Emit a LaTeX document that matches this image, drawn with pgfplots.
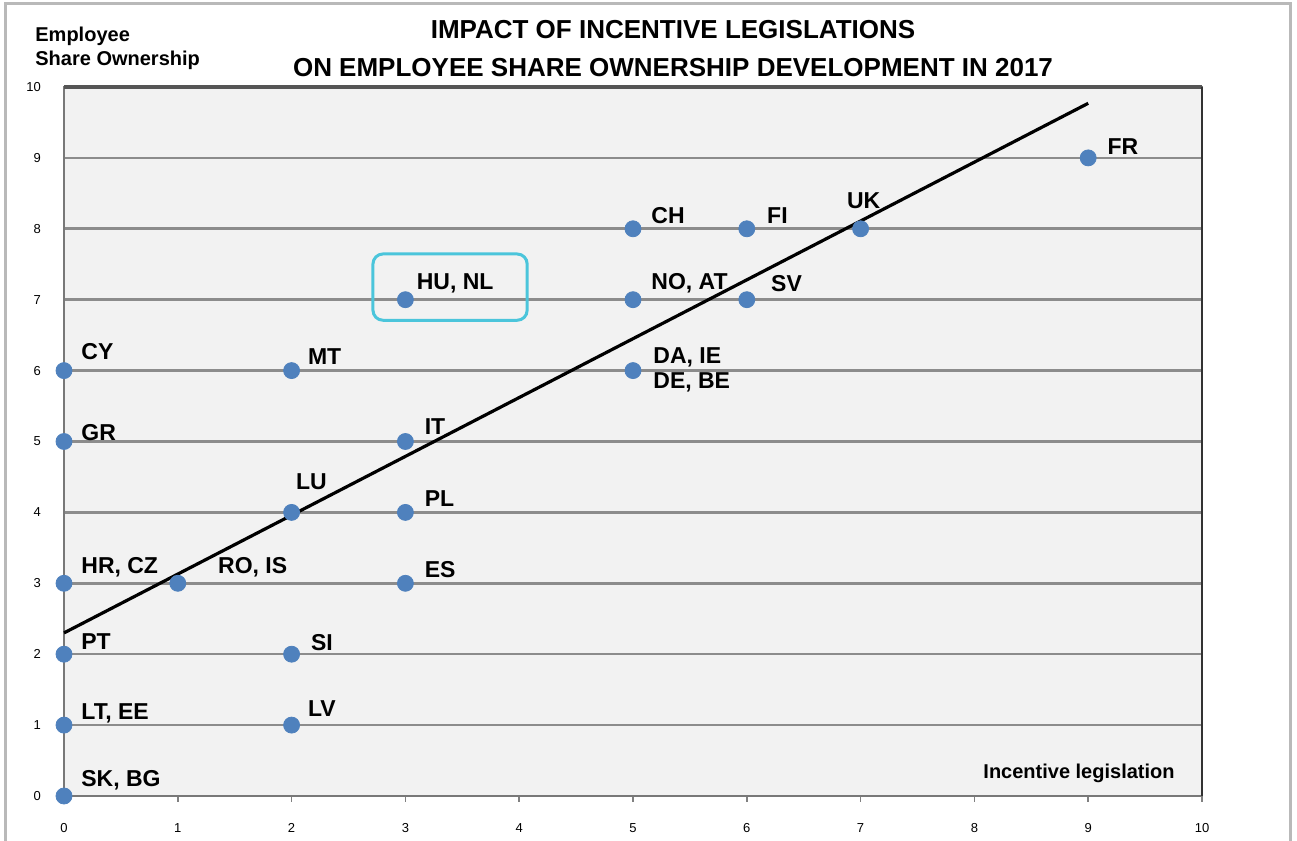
\documentclass[border=0pt]{standalone}
\usepackage{pgfplots}
\pgfplotsset{compat=1.18}
\usepackage{fontspec}
\setmainfont{Liberation Sans}
\definecolor{pt}{RGB}{79,129,189}
\definecolor{hl}{RGB}{75,197,219}
\definecolor{bg}{RGB}{242,242,242}
\definecolor{gridc}{RGB}{140,140,140}
\definecolor{axc}{RGB}{120,120,120}
\definecolor{topc}{RGB}{85,85,85}
\definecolor{rightc}{RGB}{50,50,50}
\begin{document}
\begin{tikzpicture}
\useasboundingbox (-32pt,-22.5pt) rectangle (616.5pt,398pt);
\draw[gray!55, line width=1.5pt] (-29pt,-40pt) -- (-29pt,396pt) -- (613pt,396pt) -- (613pt,-40pt);
\begin{axis}[
  at={(0,0)}, anchor=south west,
  scale only axis, width=569pt, height=354.5pt,
  xmin=0, xmax=10, ymin=0, ymax=10,
  xtick={0,...,10}, ytick={0,...,10},
  tick pos=left,
  axis background/.style={fill=bg},
  axis line style={draw=axc, line width=1.4pt},
  ymajorgrids, grid style={draw=gridc, line width=1.3pt},
  tick align=outside, major tick length=3pt,
  xtick style={draw=gray, line width=0.8pt},
  ytick style={draw=none},
  /pgf/number format/assume math mode=true,
  ticklabel style={font=\fontsize{6.5}{7}\selectfont},
  xticklabel style={yshift=-7pt},
  yticklabel style={xshift=-5pt},
  clip=false,
]
\addplot[black, line width=1.6pt] coordinates {(0,2.3) (9,9.77)};
\addplot[only marks, mark=*, mark size=4pt, pt, mark options={draw=pt, fill=pt}] coordinates {
(9,9) (5,8) (6,8) (7,8) (3,7) (5,7) (6,7) (0,6) (2,6) (5,6) (0,5) (3,5)
(2,4) (3,4) (0,3) (1,3) (3,3) (0,2) (2,2) (0,1) (2,1) (0,0)};
\draw[hl, line width=1.5pt, rounded corners=5pt] (axis cs:2.715,6.71) rectangle (axis cs:4.07,7.645);
\draw[topc, line width=1.6pt] (rel axis cs:0,1) -- (rel axis cs:1,1);
\draw[rightc, line width=1.2pt] (rel axis cs:1,1) -- (rel axis cs:1,0);
\begin{scope}[every node/.style={anchor=west, inner sep=0pt, font=\bfseries\fontsize{11.5}{12}\selectfont}]
\node[xshift=9.5pt, yshift=5.5pt] at (axis cs:9,9) {FR};
\node[xshift=9pt, yshift=6.5pt] at (axis cs:5,8) {CH};
\node[xshift=10pt, yshift=6.5pt] at (axis cs:6,8) {FI};
\node[xshift=-7pt, yshift=14pt] at (axis cs:7,8) {UK};
\node[xshift=5.5pt, yshift=8pt] at (axis cs:3,7) {HU, NL};
\node[xshift=9pt, yshift=8pt] at (axis cs:5,7) {NO, AT};
\node[xshift=12pt, yshift=8pt] at (axis cs:6,7) {SV};
\node[xshift=8.5pt, yshift=9.5pt] at (axis cs:0,6) {CY};
\node[xshift=8pt, yshift=7pt] at (axis cs:2,6) {MT};
\node[xshift=10pt, yshift=6.5pt] at (axis cs:5,6) {DA, IE};
\node[xshift=10pt, yshift=-6pt] at (axis cs:5,6) {DE, BE};
\node[xshift=8.5pt, yshift=4.5pt] at (axis cs:0,5) {GR};
\node[xshift=9.5pt, yshift=7.5pt] at (axis cs:3,5) {IT};
\node[xshift=2pt, yshift=15.5pt] at (axis cs:2,4) {LU};
\node[xshift=9.5pt, yshift=7pt] at (axis cs:3,4) {PL};
\node[xshift=8.5pt, yshift=8pt] at (axis cs:0,3) {HR, CZ};
\node[xshift=20pt, yshift=8pt] at (axis cs:1,3) {RO, IS};
\node[xshift=9.5pt, yshift=7pt] at (axis cs:3,3) {ES};
\node[xshift=8.5pt, yshift=6.5pt] at (axis cs:0,2) {PT};
\node[xshift=9.5pt, yshift=6pt] at (axis cs:2,2) {SI};
\node[xshift=8.5pt, yshift=6pt] at (axis cs:0,1) {LT, EE};
\node[xshift=8pt, yshift=8.5pt] at (axis cs:2,1) {LV};
\node[xshift=8.5pt, yshift=8pt] at (axis cs:0,0) {SK, BG};
\end{scope}
\end{axis}
\node[font=\bfseries\fontsize{13}{14}\selectfont] at (304.5pt,383pt) {IMPACT OF INCENTIVE LEGISLATIONS};
\node[font=\bfseries\fontsize{13}{14}\selectfont] at (304.5pt,364pt) {ON EMPLOYEE SHARE OWNERSHIP DEVELOPMENT IN 2017};
\node[anchor=west, inner sep=0pt, font=\bfseries\fontsize{10}{11}\selectfont] at (-14.5pt,380pt) {Employee};
\node[anchor=west, inner sep=0pt, font=\bfseries\fontsize{10}{11}\selectfont] at (-14.5pt,368pt) {Share Ownership};
\node[anchor=east, inner sep=0pt, font=\bfseries\fontsize{10}{11}\selectfont] at (555.5pt,11.5pt) {Incentive legislation};
\end{tikzpicture}
\end{document}
